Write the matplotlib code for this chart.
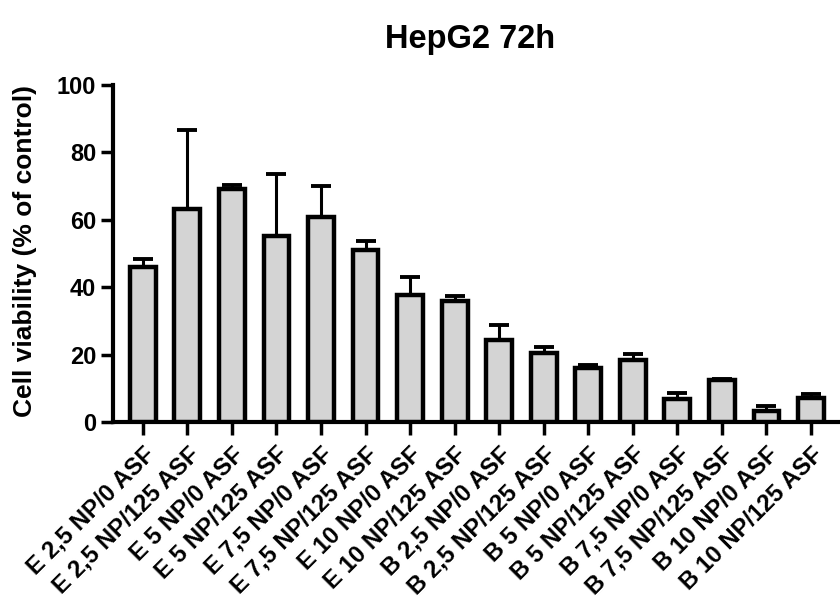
import numpy as np
import matplotlib.pyplot as plt

plt.rcParams['font.family'] = ['Liberation Sans', 'DejaVu Sans']
plt.rcParams['font.weight'] = 'bold'

labels = ['E 2,5 NP/0 ASF', 'E 2,5 NP/125 ASF', 'E 5 NP/0 ASF', 'E 5 NP/125 ASF',
          'E 7,5 NP/0 ASF', 'E 7,5 NP/125 ASF', 'E 10 NP/0 ASF', 'E 10 NP/125 ASF',
          'B 2,5 NP/0 ASF', 'B 2,5 NP/125 ASF', 'B 5 NP/0 ASF', 'B 5 NP/125 ASF',
          'B 7,5 NP/0 ASF', 'B 7,5 NP/125 ASF', 'B 10 NP/0 ASF', 'B 10 NP/125 ASF']
means = [46.1, 63.2, 69.1, 55.3, 60.7, 50.9, 37.7, 35.9,
         24.3, 20.4, 16.1, 18.3, 6.7, 12.5, 3.3, 7.2]
upper = [48.4, 86.8, 70.2, 73.6, 69.9, 53.6, 43.0, 37.5,
         28.7, 22.4, 16.9, 20.2, 8.7, 12.9, 4.8, 8.2]

err = np.array(upper) - np.array(means)
x = np.arange(len(labels))

fig = plt.figure(figsize=(8.4, 6.06), dpi=100)
ax = fig.add_axes([0.1345, 0.3036, 0.8655, 0.5561])

ax.bar(x, means, width=0.58, color='#d4d4d4', edgecolor='black', linewidth=3.2, zorder=3)
ax.errorbar(x, means, yerr=[np.zeros_like(err), err], fmt='none', ecolor='black',
            elinewidth=2.2, capsize=7, capthick=2.8, zorder=2)

ax.set_ylim(0, 100)
ax.set_xlim(-0.67, 15.65)
ax.set_yticks([0, 20, 40, 60, 80, 100])
ax.set_xticks(x)
ax.set_xticklabels(labels, rotation=45, ha='right', rotation_mode='anchor', fontsize=17.3)
ax.tick_params(axis='y', labelsize=17, width=2.5, length=9, pad=3)
ax.tick_params(axis='x', width=2.5, length=9, pad=6)
for lab in ax.get_yticklabels() + ax.get_xticklabels():
    lab.set_fontweight('bold')

for s in ['top', 'right']:
    ax.spines[s].set_visible(False)
for s in ['left', 'bottom']:
    ax.spines[s].set_linewidth(3)

ax.set_ylabel('Cell viability (% of control)', fontsize=19, fontweight='bold')
ax.yaxis.set_label_coords(-0.104, 0.507)
fig.text(0.56, 0.934, 'HepG2 72h', ha='center', va='center', fontsize=23.5, fontweight='bold')

fig.savefig('out.png', dpi=100)
